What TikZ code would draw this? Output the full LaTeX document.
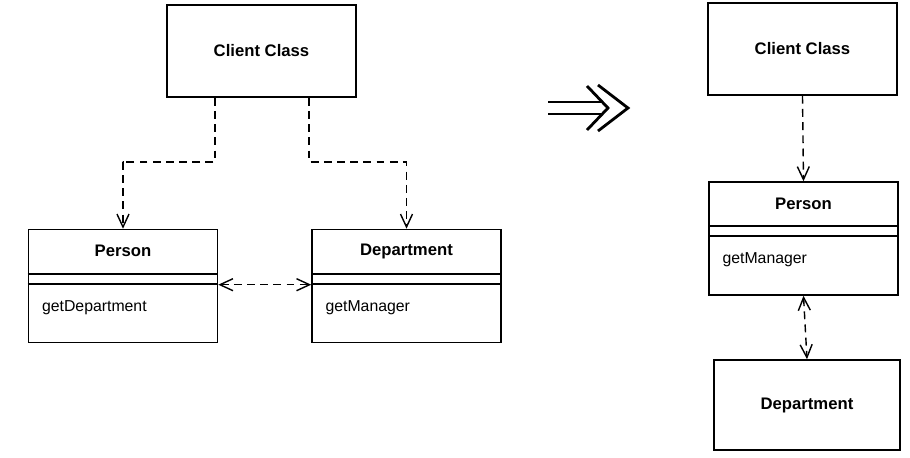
\documentclass[tikz,border=0pt]{standalone}
\usepackage{fontspec}
\setmainfont{Liberation Sans}
\usetikzlibrary{arrows.meta,calc,positioning}

\tikzset{
  classbox/.style={draw,line width=0.9pt,minimum width=3.78cm,minimum height=#1,inner sep=0pt},
  classname/.style={font=\fontsize{9.5}{11}\selectfont\bfseries},
  method/.style={font=\fontsize{9}{11}\selectfont,anchor=west,inner sep=0pt},
  depends/.style={line width=0.8pt,dash pattern=on 4.5pt off 3pt,-{Straight Barb[length=2.6mm,width=2.4mm]}},
  both/.style={depends,{Straight Barb[length=2.6mm,width=2.4mm]}-{Straight Barb[length=2.6mm,width=2.4mm]}}
}

\begin{document}
\begin{tikzpicture}
  \useasboundingbox (0,0) rectangle (18.2,9.14);

  % before
  \node[classbox=1.84cm] (clientL) at (5.23,8.12) {};
  \node[classname] at (clientL) {Client Class};
  \node[classbox=2.26cm] (personL) at (2.46,3.42) {};
  \node[classname] at ($(personL.north)+(0,-0.45)$) {Person};
  \draw[line width=0.9pt]
    ($(personL.north west)+(0,-0.9)$) -- ($(personL.north east)+(0,-0.9)$)
    ($(personL.north west)+(0,-1.1)$) -- ($(personL.north east)+(0,-1.1)$);
  \node[method] at ($(personL.north west)+(0.28,-1.57)$) {getDepartment};
  \node[classbox=2.26cm] (deptL) at (8.13,3.42) {};
  \node[classname] at ($(deptL.north)+(0,-0.45)$) {Department};
  \draw[line width=0.9pt]
    ($(deptL.north west)+(0,-0.9)$) -- ($(deptL.north east)+(0,-0.9)$)
    ($(deptL.north west)+(0,-1.1)$) -- ($(deptL.north east)+(0,-1.1)$);
  \node[method] at ($(deptL.north west)+(0.28,-1.57)$) {getManager};

  \draw[depends] ($(clientL.south)+(-0.93,0)$) |- (2.44,5.9) -| (personL.north);
  \draw[depends] ($(clientL.south)+(0.95,0)$) |- (8.1,5.9) -| (deptL.north);
  \draw[both] ($(personL.north east)+(0,-1.12)$) -- ($(deptL.north west)+(0,-1.12)$);

  % refactoring arrow
  \draw[line width=1.6pt]
    (10.96,7.10) -- (12.06,7.10)
    (10.96,6.86) -- (12.06,6.86);
  \draw[line width=1.6pt] (11.74,7.42) -- (12.16,6.98) -- (11.74,6.54);
  \draw[line width=1.6pt] (11.96,7.44) -- (12.56,6.98) -- (11.96,6.52);

  % after
  \node[classbox=1.84cm] (clientR) at (16.05,8.16) {};
  \node[classname] at (clientR) {Client Class};
  \node[classbox=2.26cm] (personR) at (16.07,4.37) {};
  \node[classname] at ($(personR.north)+(0,-0.45)$) {Person};
  \draw[line width=0.9pt]
    ($(personR.north west)+(0,-0.9)$) -- ($(personR.north east)+(0,-0.9)$)
    ($(personR.north west)+(0,-1.1)$) -- ($(personR.north east)+(0,-1.1)$);
  \node[method] at ($(personR.north west)+(0.28,-1.57)$) {getManager};
  \node[classbox=1.8cm,minimum width=3.72cm] (deptR) at (16.14,1.04) {};
  \node[classname] at (deptR) {Department};

  \draw[depends] (clientR.south) -- (personR.north);
  \draw[both] (personR.south) -- (deptR.north);
\end{tikzpicture}
\end{document}
